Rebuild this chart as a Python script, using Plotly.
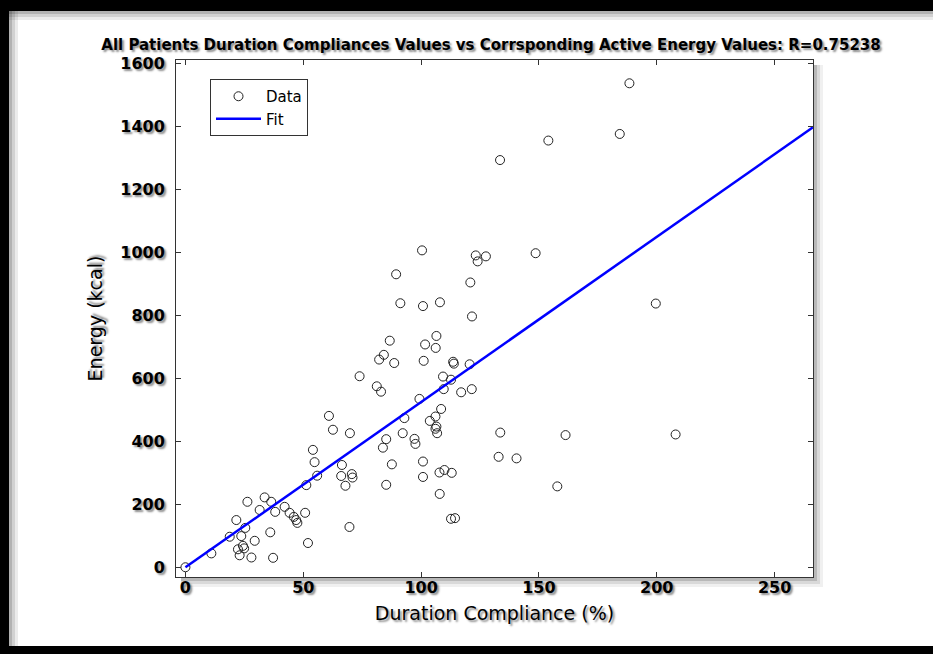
import plotly.graph_objects as go

# ---- data ----
compliance = [0, 11, 18.8, 21.6, 25.4, 23.7, 24.4, 22.3, 23, 24.9, 28, 29.4, 26.3, 31.5, 33.6,
              36.4, 38.1, 36, 37.2, 42.1, 44.2, 46, 47, 47.5, 50.8, 52, 51.3, 54.1, 54.8, 55.9,
              60.9, 62.6, 66.4, 66.1, 70.6, 70.9, 67.9, 69.8, 69.6, 73.9, 81.2, 83, 82.2, 84.2,
              86.7, 88.6, 89.4, 91.2, 85.2, 83.8, 87.6, 85.2, 92.2, 92.9, 97.2, 97.6, 99.3,
              100.4, 100.8, 101.7, 101.1, 100.8, 100.8, 103.7, 106.1, 106.5, 106.1, 106.8,
              106.5, 106.2, 108, 108.5, 109.3, 109.6, 112.7, 113.6, 113.9, 107.8, 109.9, 113,
              107.9, 112.7, 114.4, 117, 120.6, 121.5, 121.6, 120.9, 123.2, 124, 127.5, 133.5,
              133.6, 132.9, 140.5, 148.6, 154, 157.8, 161.3, 184.3, 188.4, 199.6, 208]
energy = [0, 44, 97, 150, 125, 99, 68, 57, 38, 60, 31, 84, 208, 182, 222,
          208, 176, 111, 30, 192, 173, 160, 150, 141, 173, 77, 261, 373, 334, 291,
          481, 437, 325, 290, 296, 285, 259, 426, 128, 607, 575, 558, 660, 675,
          720, 649, 931, 839, 407, 380, 327, 262, 426, 474, 408, 392, 535,
          1007, 830, 708, 656, 336, 287, 465, 479, 447, 440, 426,
          735, 697, 842, 503, 606, 566, 596, 653, 647, 301, 309, 300,
          233, 154, 156, 556, 645, 566, 797, 905, 991, 972, 988, 1294,
          428, 351, 346, 998, 1356, 257, 420, 1377, 1538, 838, 422]
fit_x = [0, 266.3]
fit_y = [0, 1398]

x_ticks = [0, 50, 100, 150, 200, 250]
y_ticks = [0, 200, 400, 600, 800, 1000, 1200, 1400, 1600]

title_text = "All Patients Duration Compliances Values vs Corrsponding Active Energy Values: R=0.75238"

# ---- layout helpers (pixel -> paper) ----
W, H = 933, 654
L, R, T, B = 176, 813, 60, 577


def px(x):
    return (x - L) / (R - L)


def py(y):
    return (B - y) / (B - T)


FONT = "DejaVu Sans"
SHADOW = "2px 2px 2px rgba(0,0,0,0.45)"

fig = go.Figure()
fig.add_trace(go.Scatter(
    x=compliance, y=energy, mode="markers", name="Data",
    marker=dict(symbol="circle-open", size=9, color="#222", line=dict(width=1, color="#222")),
))
fig.add_trace(go.Scatter(
    x=fit_x, y=fit_y, mode="lines", name="Fit",
    line=dict(color="#0000FF", width=2.5),
))

shapes = []


def rect(x0, y0, x1, y1, color):
    shapes.append(dict(type="rect", xref="paper", yref="paper",
                       x0=px(x0), x1=px(x1), y0=py(y1), y1=py(y0),
                       fillcolor=color, line=dict(width=0), layer="above"))


# black frame of the picture
rect(0, 0, W, 11, "black")
rect(0, 0, 9, H, "black")
rect(0, 646, W, H, "black")
# inner soft shadow of the frame
for i, a in enumerate([0.30, 0.18, 0.08]):
    rect(9, 11 + 3 * i, W, 14 + 3 * i, f"rgba(0,0,0,{a})")
    rect(9 + 3 * i, 11, 12 + 3 * i, 646, f"rgba(0,0,0,{a})")
# drop shadow of the axes box
for i, a in enumerate([0.28, 0.15, 0.06]):
    rect(R + 1 + 3 * i, T + 5, R + 4 + 3 * i, B + 4 + 3 * i, f"rgba(0,0,0,{a})")
    rect(L + 5, B + 1 + 3 * i, R + 1 + 3 * i, B + 4 + 3 * i, f"rgba(0,0,0,{a})")

axis_common = dict(
    showline=True, linecolor="#333", linewidth=1, mirror="ticks",
    ticks="inside", ticklen=5, tickcolor="#333", tickwidth=1,
    showgrid=False, zeroline=False,
    tickfont=dict(family=FONT, size=16, color="black", weight="bold", shadow=SHADOW),
)

fig.update_layout(
    width=W, height=H,
    margin=dict(l=L, r=W - R, t=T, b=H - B, autoexpand=False),
    paper_bgcolor="white", plot_bgcolor="white",
    title=dict(text=title_text, x=491 / W, xanchor="center", y=1 - 45 / H, yanchor="middle",
               font=dict(family=FONT, size=15, color="black", weight="bold", shadow=SHADOW)),
    xaxis=dict(range=[-4, 266.3], tickvals=x_ticks, ticklabelstandoff=-4,
               title=dict(text="Duration Compliance (%)", standoff=10,
                          font=dict(family=FONT, size=19, color="black", shadow=SHADOW)),
               **axis_common),
    yaxis=dict(range=[-31, 1612], tickvals=y_ticks, ticklabelstandoff=7,
               title=dict(text="Energy (kcal)", standoff=12,
                          font=dict(family=FONT, size=19, color="black", shadow=SHADOW)),
               **axis_common),
    legend=dict(x=px(210), y=py(79), xanchor="left", yanchor="top",
                bgcolor="white", bordercolor="#333", borderwidth=1,
                font=dict(family=FONT, size=15, color="black"),
                itemwidth=45, tracegroupgap=0),
    showlegend=True,
    shapes=shapes,
)

fig.write_html("out.html", config={"displayModeBar": False},
               post_script="document.body.style.margin='0';document.body.style.overflow='hidden';")
